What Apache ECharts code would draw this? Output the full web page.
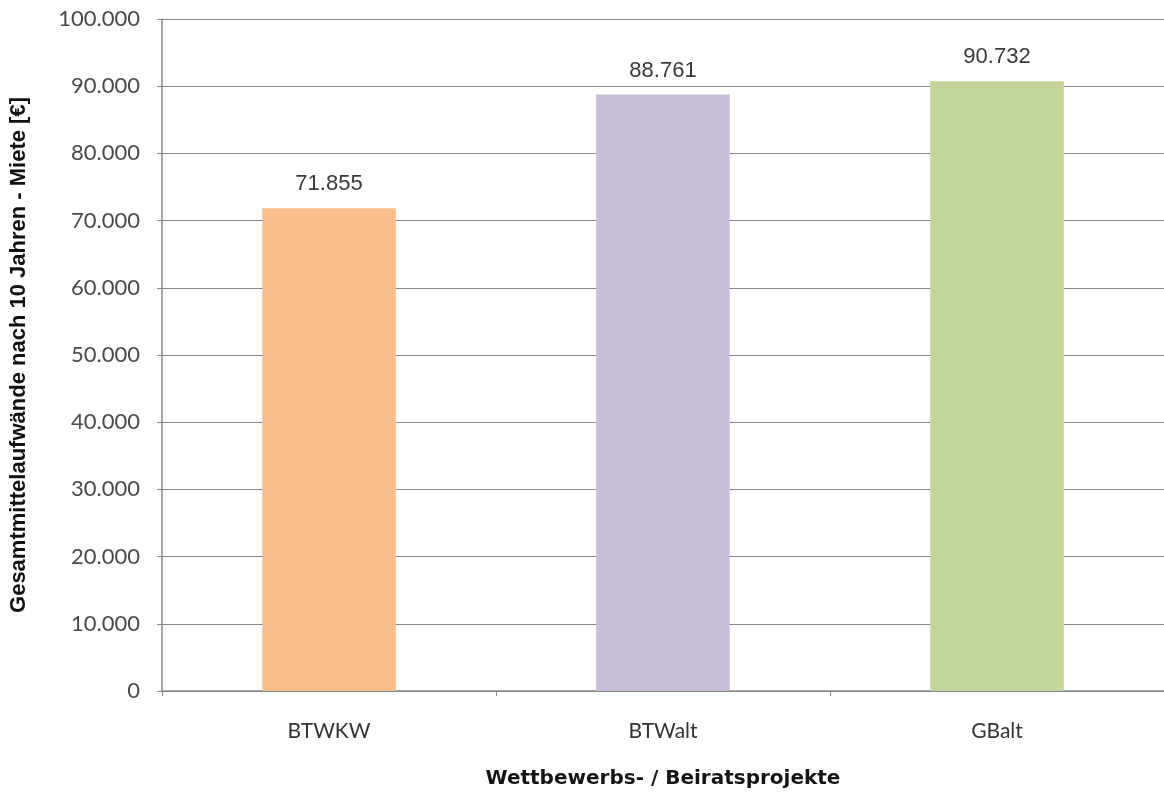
<!DOCTYPE html>
<html>
<head>
<meta charset="utf-8">
<script src="https://cdn.jsdelivr.net/npm/echarts@6/dist/echarts.min.js"></script>
<style>
  html, body { margin: 0; padding: 0; background: #fff; }
  #chart { width: 1164px; height: 794px; }
</style>
</head>
<body>
<div id="chart"></div>
<script>
// Projects and their total costs after 10 years (rent), in EUR
const categories = ['BTWKW', 'BTWalt', 'GBalt'];
const values = [71855, 88761, 90732];
const barColors = ['#F8BF8C', '#C8BED8', '#C4D59B'];

// German thousands separator
const fmt = v => Math.round(v).toString().replace(/\B(?=(\d{3})+(?!\d))/g, '.');

const chart = echarts.init(document.getElementById('chart'), null, { renderer: 'canvas' });
chart.setOption({
  animation: false,
  backgroundColor: '#ffffff',
  grid: { left: 160, right: -4, top: 19, bottom: 103, containLabel: false },
  xAxis: {
    type: 'category',
    data: categories,
    name: 'Wettbewerbs- / Beiratsprojekte',
    nameLocation: 'middle',
    nameGap: 78,
    nameTextStyle: { fontFamily: '"DejaVu Sans", sans-serif', fontWeight: 'bold', fontSize: 20, color: '#151515' },
    axisLine: { lineStyle: { color: '#888', width: 1.5 } },
    axisTick: { show: true, length: 5, lineStyle: { color: '#888' } },
    axisLabel: { fontFamily: 'Lato, sans-serif', fontSize: 21, color: '#333', margin: 30 }
  },
  yAxis: {
    type: 'value',
    min: 0,
    max: 100000,
    interval: 10000,
    name: 'Gesamtmittelaufwände nach 10 Jahren - Miete [€]',
    nameLocation: 'middle',
    nameGap: 132,
    nameTextStyle: { fontFamily: '"Liberation Sans", sans-serif', fontWeight: 'bold', fontSize: 22, color: '#111' },
    axisLine: { show: true, lineStyle: { color: '#888', width: 1.5 } },
    axisTick: { show: true, length: 5, lineStyle: { color: '#888' } },
    splitLine: { lineStyle: { color: '#888', width: 1.2 } },
    axisLabel: {
      fontFamily: 'Lato, sans-serif', fontSize: 22, color: '#4a4a4a', margin: 22,
      formatter: v => fmt(v)
    }
  },
  series: [{
    type: 'bar',
    barWidth: '40%',
    data: values.map((v, i) => ({ value: v, itemStyle: { color: barColors[i] } })),
    label: {
      show: true,
      position: 'top',
      distance: 13,
      fontFamily: '"Liberation Sans", Arial, sans-serif',
      fontSize: 22,
      color: '#3a3a3a',
      formatter: p => fmt(p.value)
    }
  }]
});
</script>
</body>
</html>
